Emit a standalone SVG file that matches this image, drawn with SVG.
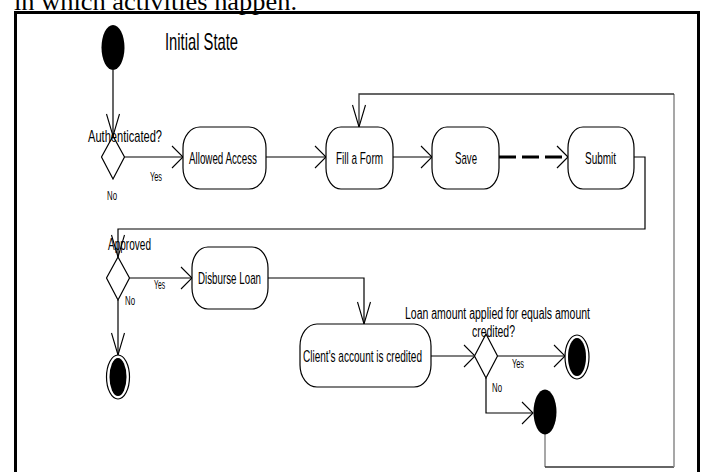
<svg xmlns="http://www.w3.org/2000/svg" width="705" height="472" viewBox="0 0 705 472">
<style>
.n{fill:#fff;stroke:#000;stroke-width:1.2}
.t{font-family:"Liberation Sans",Arial,sans-serif;fill:#000}
.l{fill:none;stroke:#000;stroke-width:1.2}
.gv{fill:none;stroke:#8a8a8a;stroke-width:1.5}
.gh{fill:none;stroke:#333;stroke-width:1.3}
</style>
<defs>
<marker id="ah" viewBox="-12 -12 14 24" markerWidth="14" markerHeight="24" refX="0" refY="0" orient="auto" markerUnits="userSpaceOnUse"><path d="M-11,-11 L0,0 L-11,11" fill="none" stroke="#000" stroke-width="1.1"/></marker>
<marker id="av" viewBox="-23 -8 25 16" markerWidth="25" markerHeight="16" refX="0" refY="0" orient="auto" markerUnits="userSpaceOnUse"><path d="M-22,-6.5 L0,0 L-22,6.5" fill="none" stroke="#000" stroke-width="1.1"/></marker>
</defs>
<rect width="705" height="472" fill="#fff"/>
<text x="14" y="9.5" font-family="Liberation Serif,'Times New Roman',serif" font-size="26" textLength="283" lengthAdjust="spacingAndGlyphs">in which activities happen.</text>
<rect x="15.5" y="12.5" width="683" height="480" fill="none" stroke="#000" stroke-width="3"/>

<g id="connectors">
<path class="l" d="M113,70 V136" marker-end="url(#av)"/>
<path class="l" d="M124.5,157 H183" marker-end="url(#ah)"/>
<path class="l" d="M266,157 H326" marker-end="url(#ah)"/>
<path class="l" d="M393,157 H432" marker-end="url(#ah)"/>
<path d="M499,157 H566" fill="none" stroke="#000" stroke-width="3" stroke-dasharray="17 6"/>
<path class="l" d="M557,146 L568,157 L557,168"/>
<path class="l" d="M634,157 H645 V229 H118 V257" marker-end="url(#av)"/>
<path class="l" d="M129.5,278 H192" marker-end="url(#ah)"/>
<path class="l" d="M118,300 V355" marker-end="url(#av)"/>
<path class="l" d="M268,278 H364 V324" marker-end="url(#av)"/>
<path class="l" d="M431,356 H475" marker-end="url(#ah)"/>
<path class="l" d="M497.5,356 H565" marker-end="url(#ah)"/>
<path class="l" d="M486,378 V413 H533" marker-end="url(#ah)"/>
<path class="gv" d="M545,434 V467"/>
<path class="gh" d="M545,467 H674"/>
<path class="gv" d="M674,467 V94"/>
<path class="gh" d="M674,94 H359 V127" marker-end="url(#av)"/>
</g>

<g id="initial">
<ellipse cx="113" cy="47.5" rx="11.5" ry="22.5" fill="#000"/>
<text class="t" x="165" y="50" font-size="24" textLength="73" lengthAdjust="spacingAndGlyphs">Initial State</text>
</g>

<g id="authenticated">
<path class="n" d="M113,136 L124.5,157 L113,179 L101.5,157 Z"/>
<text class="t" x="88" y="142" font-size="17" textLength="74" lengthAdjust="spacingAndGlyphs">Authenticated?</text>
<text class="t" x="150" y="181" font-size="12" textLength="12" lengthAdjust="spacingAndGlyphs">Yes</text>
<text class="t" x="107" y="200" font-size="12" textLength="10" lengthAdjust="spacingAndGlyphs">No</text>
</g>

<g id="allowed-access">
<rect class="n" x="183" y="127" width="83" height="62" rx="17" ry="21"/>
<text class="t" x="189" y="164" font-size="17" textLength="68" lengthAdjust="spacingAndGlyphs">Allowed Access</text>
</g>

<g id="fill-form">
<rect class="n" x="326" y="127" width="67" height="62" rx="15" ry="21"/>
<text class="t" x="336" y="164" font-size="17" textLength="47" lengthAdjust="spacingAndGlyphs">Fill a Form</text>
</g>

<g id="save">
<rect class="n" x="432" y="127" width="67" height="62" rx="15" ry="21"/>
<text class="t" x="455" y="164" font-size="17" textLength="22" lengthAdjust="spacingAndGlyphs">Save</text>
</g>

<g id="submit">
<rect class="n" x="568" y="127" width="66" height="62" rx="15" ry="21"/>
<text class="t" x="585" y="164" font-size="17" textLength="31" lengthAdjust="spacingAndGlyphs">Submit</text>
</g>

<g id="approved">
<path class="n" d="M118,257 L129.5,278 L118,300 L106.5,278 Z"/>
<text class="t" x="108" y="250" font-size="17" textLength="43" lengthAdjust="spacingAndGlyphs">Approved</text>
<text class="t" x="154" y="289" font-size="12" textLength="11" lengthAdjust="spacingAndGlyphs">Yes</text>
<text class="t" x="125" y="305" font-size="12" textLength="10" lengthAdjust="spacingAndGlyphs">No</text>
</g>

<g id="disburse-loan">
<rect class="n" x="192" y="247" width="76" height="62" rx="16" ry="21"/>
<text class="t" x="198" y="284" font-size="17" textLength="63" lengthAdjust="spacingAndGlyphs">Disburse Loan</text>
</g>

<g id="final-rejected">
<ellipse cx="118" cy="377" rx="11.5" ry="22" fill="#fff" stroke="#000" stroke-width="1.2"/>
<ellipse cx="118" cy="377" rx="8.5" ry="19" fill="#000"/>
</g>

<g id="client-credited">
<rect class="n" x="300" y="324" width="131" height="63" rx="17" ry="22"/>
<text class="t" x="303" y="362" font-size="17" textLength="119" lengthAdjust="spacingAndGlyphs">Client's account is credited</text>
</g>

<g id="amount-check">
<path class="n" d="M486,334 L497.5,356 L486,378 L474.5,356 Z"/>
<text class="t" x="405" y="319" font-size="16" textLength="185" lengthAdjust="spacingAndGlyphs">Loan amount applied for equals amount</text>
<text class="t" x="472" y="337" font-size="16" textLength="43" lengthAdjust="spacingAndGlyphs">credited?</text>
<text class="t" x="512" y="368" font-size="12" textLength="12" lengthAdjust="spacingAndGlyphs">Yes</text>
<text class="t" x="492" y="392" font-size="12" textLength="10" lengthAdjust="spacingAndGlyphs">No</text>
</g>

<g id="final-ok">
<ellipse cx="577" cy="357" rx="12" ry="22" fill="#fff" stroke="#000" stroke-width="1.2"/>
<ellipse cx="577" cy="357" rx="9" ry="19" fill="#000"/>
</g>

<g id="retry-node">
<ellipse cx="545" cy="412" rx="11.5" ry="22.5" fill="#000"/>
</g>
</svg>
